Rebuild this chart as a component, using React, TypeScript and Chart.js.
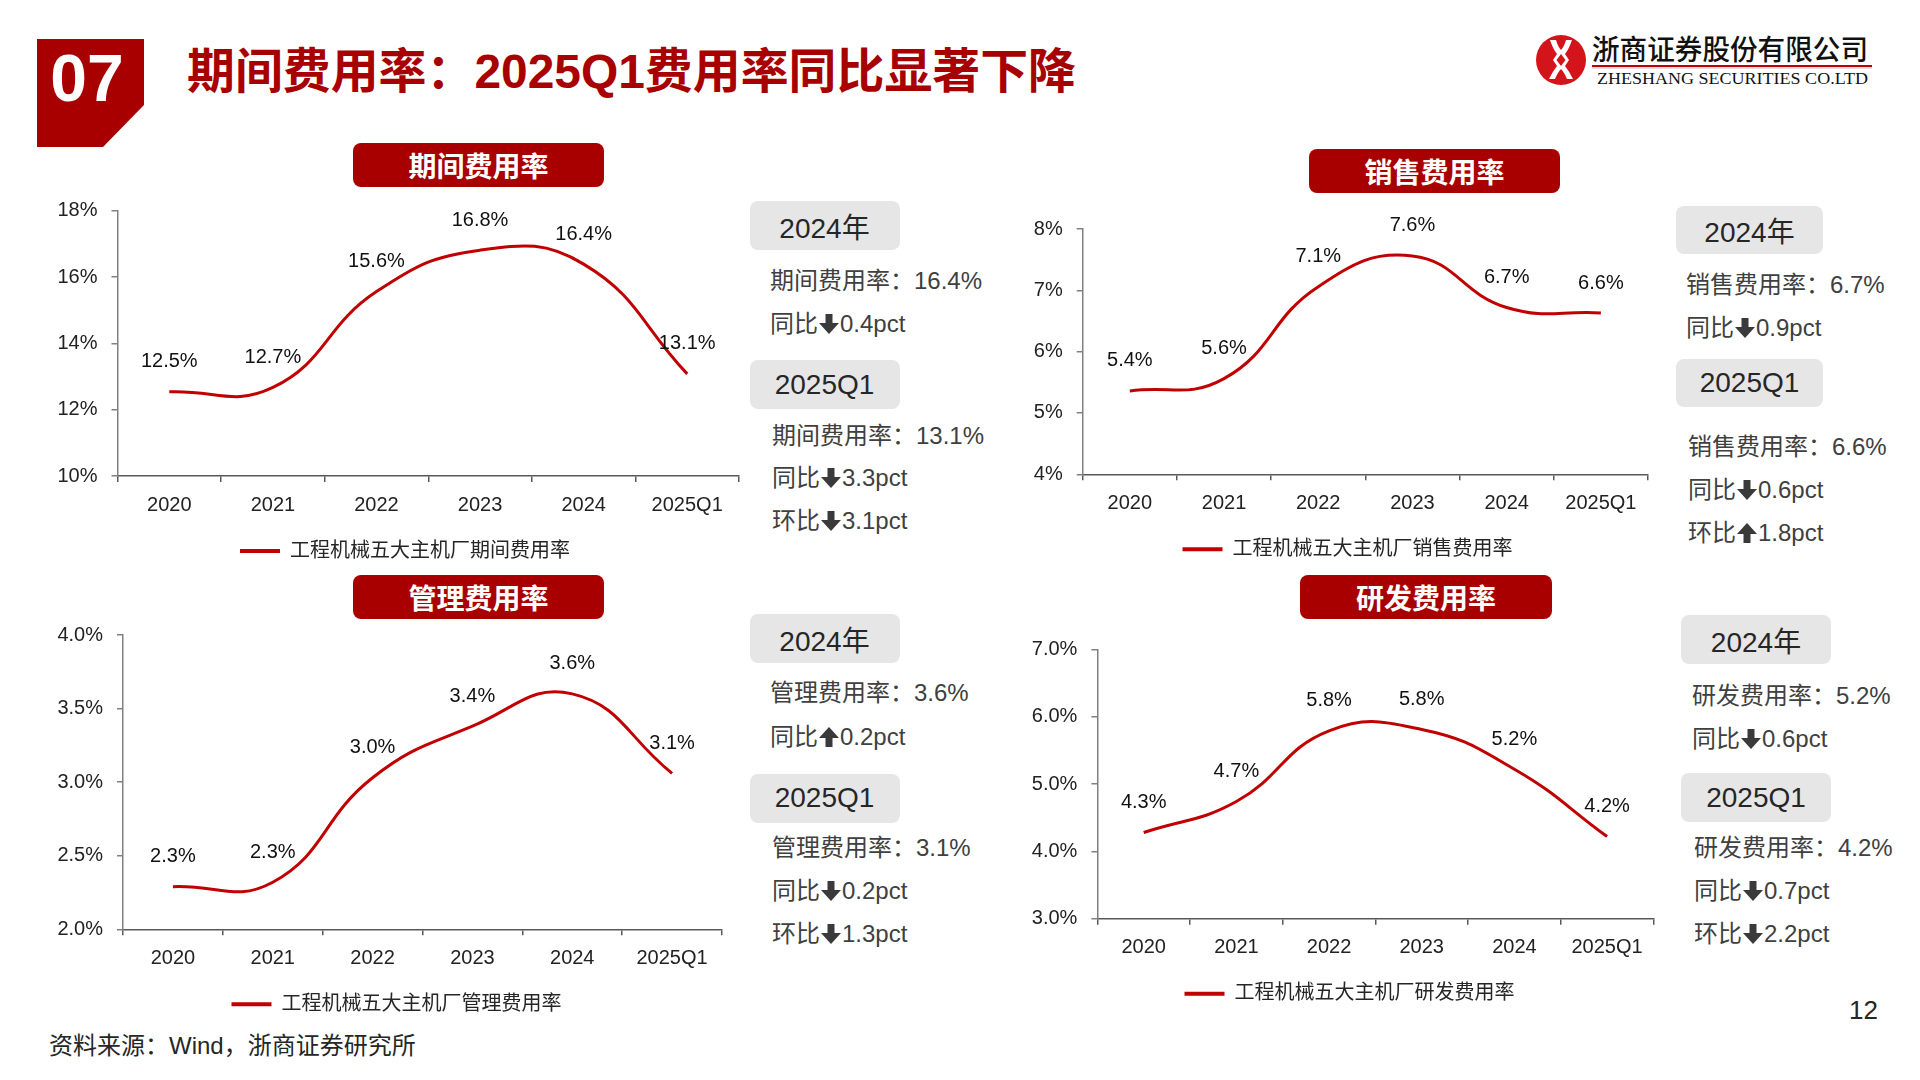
import React, { useEffect, useRef } from 'react';
import { Chart, registerables } from 'chart.js';

Chart.register(...registerables);

// ---------------- data ----------------
const CATEGORIES = ['2020', '2021', '2022', '2023', '2024', '2025Q1'];

const PERIOD_RATE = [12.54, 12.67, 15.56, 16.81, 16.39, 13.08];
const SALES_RATE = [5.36, 5.56, 7.06, 7.56, 6.72, 6.63];
const ADMIN_RATE = [2.29, 2.32, 3.03, 3.38, 3.6, 3.06];
const RD_RATE = [4.28, 4.74, 5.79, 5.81, 5.22, 4.22];

// [min, max, step, decimals]
const PERIOD_Y = [10, 18, 2, 0];
const SALES_Y = [4, 8, 1, 0];
const ADMIN_Y = [2, 4, 0.5, 1];
const RD_Y = [3, 7, 1, 1];

const PERIOD_LEGEND = '工程机械五大主机厂期间费用率';
const SALES_LEGEND = '工程机械五大主机厂销售费用率';
const ADMIN_LEGEND = '工程机械五大主机厂管理费用率';
const RD_LEGEND = '工程机械五大主机厂研发费用率';

const PERIOD_NOTES_2024 = ['期间费用率：16.4%', '同比↓0.4pct'];
const PERIOD_NOTES_Q1 = ['期间费用率：13.1%', '同比↓3.3pct', '环比↓3.1pct'];
const SALES_NOTES_2024 = ['销售费用率：6.7%', '同比↓0.9pct'];
const SALES_NOTES_Q1 = ['销售费用率：6.6%', '同比↓0.6pct', '环比↑1.8pct'];
const ADMIN_NOTES_2024 = ['管理费用率：3.6%', '同比↑0.2pct'];
const ADMIN_NOTES_Q1 = ['管理费用率：3.1%', '同比↓0.2pct', '环比↓1.3pct'];
const RD_NOTES_2024 = ['研发费用率：5.2%', '同比↓0.6pct'];
const RD_NOTES_Q1 = ['研发费用率：4.2%', '同比↓0.7pct', '环比↓2.2pct'];

const TITLE = '期间费用率：2025Q1费用率同比显著下降';
const SOURCE = '资料来源：Wind，浙商证券研究所';

// ---------------- styles ----------------
const DARK_RED = '#A80000';
const LINE_RED = '#C00000';
const FONT = "'Liberation Sans', 'Noto Sans CJK SC', sans-serif";
const CJK = "'Noto Sans CJK SC', 'Liberation Sans', sans-serif";

Chart.defaults.font.family = FONT;

type Area = { L: number; R: number; T: number; B: number; legendX: number; canvasLeft: number };

const dataLabelPlugin = {
  id: 'pointLabels',
  afterDatasetsDraw(chart: any) {
    const ctx = chart.ctx;
    const meta = chart.getDatasetMeta(0);
    const values = chart.data.datasets[0].data as number[];
    ctx.save();
    ctx.font = `20px ${FONT}`;
    ctx.fillStyle = '#111';
    ctx.textAlign = 'center';
    ctx.textBaseline = 'middle';
    meta.data.forEach((pt: any, i: number) => {
      ctx.fillText(values[i].toFixed(1) + '%', pt.x, pt.y - 30);
    });
    ctx.restore();
  },
};

function LinePanel({ data, yCfg, legend, area }: { data: number[]; yCfg: number[]; legend: string; area: Area }) {
  const ref = useRef<HTMLCanvasElement | null>(null);
  const X_H = 52.5;
  const LEG_PAD = 12.5;
  const LEG_H = 20 + LEG_PAD + 10;
  const cx = area.canvasLeft;
  const cy = Math.floor(area.T - 30);
  const pt = area.T - cy;
  const cw = Math.ceil(area.R + 10 - cx);
  const pr = cx + cw - area.R;
  const yW = area.L - cx;
  const ch = Math.ceil(area.B - cy + X_H + LEG_H + 4);
  const pb = ch - (area.B - cy) - X_H - LEG_H;
  // shift of legend so that it is centred where the reference has it
  const legendShift = area.legendX - (cx + area.R) / 2;

  useEffect(() => {
    if (!ref.current) return;
    const [min, max, step, dec] = yCfg;
    const legendShiftPlugin = {
      id: 'legendShift',
      afterLayout(chart: any) {
        const lg = chart.legend;
        if (lg) {
          lg.left += legendShift;
          lg.right += legendShift;
        }
      },
    };
    const chart = new Chart(ref.current, {
      type: 'line',
      data: {
        labels: CATEGORIES,
        datasets: [
          {
            label: legend,
            data,
            borderColor: LINE_RED,
            backgroundColor: LINE_RED,
            borderWidth: 3,
            tension: 0.45,
            pointRadius: 0,
            fill: false,
          },
        ],
      },
      options: {
        responsive: false,
        animation: false,
        layout: { padding: { left: 0, right: pr, top: pt, bottom: pb } },
        plugins: {
          tooltip: { enabled: false },
          legend: {
            position: 'bottom',
            labels: {
              boxWidth: 40,
              boxHeight: 4,
              padding: LEG_PAD,
              color: '#262626',
              font: { size: 20, family: FONT },
              generateLabels: (c: any) =>
                (Chart.defaults.plugins.legend.labels.generateLabels as any)(c).map((l: any) => ({
                  ...l,
                  lineWidth: 0,
                  fillStyle: LINE_RED,
                })),
            },
          },
        },
        scales: {
          x: {
            offset: true,
            grid: { display: true, drawOnChartArea: false, drawTicks: true, tickLength: 6, offset: true, color: '#595959', lineWidth: 1.5 },
            border: { display: true, color: '#595959', width: 1.5 },
            ticks: { color: '#222', font: { size: 20 }, padding: 11, maxRotation: 0, autoSkip: false },
            afterFit: (s: any) => {
              s.height = X_H;
            },
          },
          y: {
            min,
            max,
            grid: { display: true, drawOnChartArea: false, drawTicks: true, tickLength: 6, color: '#808080', lineWidth: 1.5 },
            border: { display: true, color: '#808080', width: 1.5 },
            ticks: {
              stepSize: step,
              color: '#222',
              font: { size: 20 },
              padding: 14,
              callback: (v: any) => Number(v).toFixed(dec) + '%',
            },
            afterFit: (s: any) => {
              s.width = yW;
            },
          },
        },
      } as any,
      plugins: [dataLabelPlugin, legendShiftPlugin],
    });
    return () => chart.destroy();
  }, []);

  return (
    <canvas
      ref={ref}
      width={cw}
      height={ch}
      style={{ position: 'absolute', left: cx, top: cy, width: cw, height: ch }}
    />
  );
}

function Arrow({ dir }: { dir: 'up' | 'down' }) {
  const d = dir === 'down' ? 'M6.5 1 H13.5 V10 H20 L10 21 L0 10 H6.5 Z' : 'M6.5 21 H13.5 V12 H20 L10 1 L0 12 H6.5 Z';
  return (
    <svg width="20" height="22" viewBox="0 0 20 22" style={{ display: 'inline-block', margin: '0 1px' }} aria-label={dir === 'down' ? '下降' : '上升'}>
      <path d={d} fill="#3a3a3a" />
    </svg>
  );
}

function InfoLine({ text, x, y }: { text: string; x: number; y: number }) {
  const m = text.match(/^(.*?)([↑↓])(.*)$/);
  return (
    <div
      style={{
        position: 'absolute',
        left: x,
        top: y - 16,
        height: 32,
        lineHeight: '32px',
        fontSize: 24,
        fontFamily: FONT,
        color: '#404040',
        whiteSpace: 'nowrap',
        display: 'flex',
        alignItems: 'center',
      }}
    >
      {m ? (
        <>
          <span>{m[1]}</span>
          <Arrow dir={m[2] === '↓' ? 'down' : 'up'} />
          <span>{m[3]}</span>
        </>
      ) : (
        text
      )}
    </div>
  );
}

function GrayBox({ text, x, y, w, h }: { text: string; x: number; y: number; w: number; h: number }) {
  return (
    <div
      style={{
        position: 'absolute',
        left: x,
        top: y,
        width: w,
        height: h,
        background: '#E7E6E6',
        borderRadius: 8,
        display: 'flex',
        alignItems: 'center',
        justifyContent: 'center',
        fontSize: 28,
        fontFamily: FONT,
        color: '#262626',
      }}
    >
      {text}
    </div>
  );
}

type ColCfg = { boxX: number; boxW: number; boxH: number; box1Y: number; box2Y: number; l1X: number; l1Y: number[]; l2X: number; l2Y: number[] };

function NotesColumn({ cfg, a, b }: { cfg: ColCfg; a: string[]; b: string[] }) {
  return (
    <>
      <GrayBox text="2024年" x={cfg.boxX} y={cfg.box1Y} w={cfg.boxW} h={cfg.boxH} />
      {a.map((t, i) => (
        <InfoLine key={'a' + i} text={t} x={cfg.l1X} y={cfg.l1Y[i]} />
      ))}
      <GrayBox text="2025Q1" x={cfg.boxX} y={cfg.box2Y} w={cfg.boxW} h={cfg.boxH} />
      {b.map((t, i) => (
        <InfoLine key={'b' + i} text={t} x={cfg.l2X} y={cfg.l2Y[i]} />
      ))}
    </>
  );
}

function Banner({ text, x, y, w, h }: { text: string; x: number; y: number; w: number; h: number }) {
  return (
    <div
      style={{
        position: 'absolute',
        left: x,
        top: y,
        width: w,
        height: h,
        background: DARK_RED,
        borderRadius: 8,
        color: '#fff',
        fontFamily: CJK,
        fontWeight: 700,
        fontSize: 28,
        display: 'flex',
        alignItems: 'center',
        justifyContent: 'center',
      }}
    >
      {text}
    </div>
  );
}

export default function App() {
  return (
    <div
      style={{
        position: 'absolute',
        left: 0,
        top: 0,
        width: 1920,
        height: 1080,
        background: '#fff',
        overflow: 'hidden',
        fontFamily: FONT,
      }}
    >
      <svg width="1920" height="1080" style={{ position: 'absolute', left: 0, top: 0 }}>
        <polygon points="37,39 144,39 144,105 103,147 37,147" fill={DARK_RED} />
        <text x="87" y="101" textAnchor="middle" fontFamily={FONT} fontWeight="700" fontSize="66" fill="#fff">
          07
        </text>
        <text
          x="187"
          y="88"
          fontFamily={FONT}
          fontWeight="700"
          fontSize="48"
          fill={DARK_RED}
          textLength="889"
          lengthAdjust="spacingAndGlyphs"
        >
          {TITLE}
        </text>
        {/* logo */}
        <circle cx="1561" cy="60" r="25" fill="#D4141B" />
        <g transform="translate(1536,35)">
          <path
            d="M14,5 L20,5 Q22,12 25,15 Q28,12 30,5 L36,5 Q33,14 29,19 L33,25 L29,31 Q33,36 37,44 L31,44 Q28,37 25,34 Q22,37 19,44 L13,44 Q17,36 21,31 L17,25 L21,19 Q17,14 14,5 Z"
            fill="#fff"
          />
          <path d="M25,19 L29.5,25 L25,31 L20.5,25 Z" fill="#D4141B" />
        </g>
        <text x="1592" y="60" fontFamily={CJK} fontWeight="500" fontSize="28" fill="#111" textLength="276" lengthAdjust="spacingAndGlyphs">
          浙商证券股份有限公司
        </text>
        <rect x="1592" y="65" width="280" height="2" fill="#C00000" />
        <rect x="1592" y="67.5" width="280" height="1" fill="#bbb" />
        <text x="1597" y="84" fontFamily="'Liberation Serif', serif" fontSize="17" fill="#111" textLength="271" lengthAdjust="spacingAndGlyphs">
          ZHESHANG SECURITIES CO.LTD
        </text>
      </svg>

      <Banner text="期间费用率" x={353} y={143} w={251} h={44} />
      <Banner text="销售费用率" x={1309} y={149} w={251} h={44} />
      <Banner text="管理费用率" x={353} y={575} w={251} h={44} />
      <Banner text="研发费用率" x={1300} y={575} w={252} h={44} />

      <LinePanel data={PERIOD_RATE} yCfg={PERIOD_Y} legend={PERIOD_LEGEND} area={{ L: 117.5, R: 739, T: 210.7, B: 476, legendX: 405, canvasLeft: 30 }} />
      <LinePanel data={SALES_RATE} yCfg={SALES_Y} legend={SALES_LEGEND} area={{ L: 1082.7, R: 1648, T: 229, B: 474.3, legendX: 1347.5, canvasLeft: 1010 }} />
      <LinePanel data={ADMIN_RATE} yCfg={ADMIN_Y} legend={ADMIN_LEGEND} area={{ L: 123, R: 722, T: 635, B: 929.3, legendX: 396.5, canvasLeft: 30 }} />
      <LinePanel data={RD_RATE} yCfg={RD_Y} legend={RD_LEGEND} area={{ L: 1097.4, R: 1653.4, T: 649.3, B: 918.7, legendX: 1349.5, canvasLeft: 1010 }} />

      <NotesColumn
        cfg={{ boxX: 749.5, boxW: 150, boxH: 49, box1Y: 201, box2Y: 360, l1X: 770, l1Y: [281, 324], l2X: 772, l2Y: [436, 478, 521] }}
        a={PERIOD_NOTES_2024}
        b={PERIOD_NOTES_Q1}
      />
      <NotesColumn
        cfg={{ boxX: 1676, boxW: 147, boxH: 48, box1Y: 206, box2Y: 359, l1X: 1686, l1Y: [285, 328], l2X: 1688, l2Y: [447, 490, 533] }}
        a={SALES_NOTES_2024}
        b={SALES_NOTES_Q1}
      />
      <NotesColumn
        cfg={{ boxX: 749.5, boxW: 150, boxH: 49, box1Y: 614, box2Y: 773.5, l1X: 770, l1Y: [693, 737], l2X: 772, l2Y: [848, 891, 933.5] }}
        a={ADMIN_NOTES_2024}
        b={ADMIN_NOTES_Q1}
      />
      <NotesColumn
        cfg={{ boxX: 1681, boxW: 150, boxH: 49, box1Y: 615, box2Y: 773, l1X: 1692, l1Y: [695.5, 738.5], l2X: 1694, l2Y: [848, 891, 933.5] }}
        a={RD_NOTES_2024}
        b={RD_NOTES_Q1}
      />

      <div style={{ position: 'absolute', left: 49, top: 1030, height: 32, lineHeight: '32px', fontSize: 24, color: '#262626', whiteSpace: 'nowrap', fontFamily: FONT }}>
        {SOURCE}
      </div>
      <div style={{ position: 'absolute', left: 1849, top: 994, height: 32, lineHeight: '32px', fontSize: 26, color: '#262626', fontFamily: FONT }}>
        12
      </div>
    </div>
  );
}
